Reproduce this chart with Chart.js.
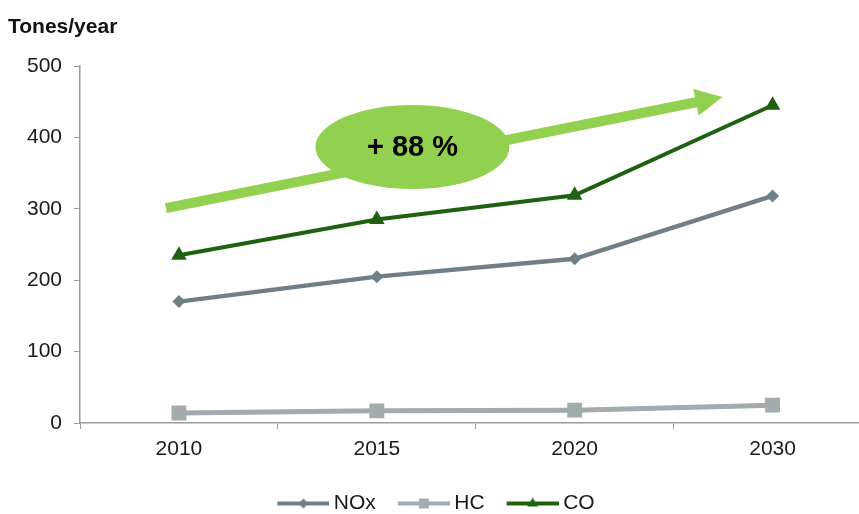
<!DOCTYPE html>
<html>
<head>
<meta charset="utf-8">
<script src="https://cdn.jsdelivr.net/npm/chart.js@4.4.1/dist/chart.umd.min.js"></script>
<style>
  html, body { margin: 0; padding: 0; width: 859px; height: 514px; overflow: hidden; background: #fff; }
  canvas { display: block; }
</style>
</head>
<body>
<canvas id="emissionsChart" width="882" height="524"></canvas>
<script>
// Emissions by year, tonnes per year
let years = ['2010', '2015', '2020', '2030'];
let noxValues = [170, 205, 230, 318];
let hcValues = [14, 17, 18, 25];
let coValues = [235, 285, 319, 445];
let yTicks = [0, 100, 200, 300, 400, 500];
let growthLabel = '+ 88 %';

const noxColor = '#6e7f88';
const hcColor = '#a2abaf';
const coColor = '#1f6111';
const arrowColor = '#92d050';
const textColor = '#1a1a1a';
const axisColor = '#9a9a9a';
const fontFamily = '"Liberation Sans", Arial, sans-serif';

// Trend arrow and bubble, placed in axis units (category index, tonnes)
const trendArrow = { from: [-0.066, 301], to: [2.747, 456.6], shaft: 10, headWidth: 27, headLength: 27 };
const bubble = { center: [1.18, 386.5], rx: 0.49, ry: 58.8 };

// Small line-with-marker image used as the legend symbol
function legendSwatch(color, style, radius, lineWidth) {
    const c = document.createElement('canvas');
    c.width = 64;
    c.height = 20;
    const g = c.getContext('2d');
    g.strokeStyle = color;
    g.fillStyle = color;
    g.lineWidth = lineWidth;
    g.beginPath();
    g.moveTo(12, 10);
    g.lineTo(64, 10);
    g.stroke();
    Chart.helpers.drawPoint(g, { pointStyle: style, radius: radius, borderWidth: 0 }, 38, 10);
    return c;
}

const swatches = [
    legendSwatch(noxColor, 'rectRot', 5, 4),
    legendSwatch(hcColor, 'rect', 7, 4),
    legendSwatch(coColor, 'triangle', 6, 4)
];

const titlePlugin = {
    id: 'unitTitle',
    afterLayout(chart) {
        // legend sits a little left of the canvas centre
        if (chart.legend) {
            chart.legend.left -= 8;
            chart.legend.right -= 8;
        }
    },
    afterDraw(chart) {
        const ctx = chart.ctx;
        ctx.save();
        ctx.font = 'bold 21px ' + fontFamily;
        ctx.fillStyle = '#111';
        ctx.textBaseline = 'alphabetic';
        ctx.fillText('Tones/year', 8, 33);
        ctx.restore();
    }
};

const trendPlugin = {
    id: 'trendArrow',
    afterDatasetsDraw(chart) {
        const x = chart.scales.x, y = chart.scales.y;
        const ctx = chart.ctx;
        const x0 = x.getPixelForValue(trendArrow.from[0]), y0 = y.getPixelForValue(trendArrow.from[1]);
        const x1 = x.getPixelForValue(trendArrow.to[0]), y1 = y.getPixelForValue(trendArrow.to[1]);
        const len = Math.hypot(x1 - x0, y1 - y0);
        const ux = (x1 - x0) / len, uy = (y1 - y0) / len;
        const nx = -uy, ny = ux;
        const bx = x1 - ux * trendArrow.headLength, by = y1 - uy * trendArrow.headLength;
        const s = trendArrow.shaft / 2, h = trendArrow.headWidth / 2;

        ctx.save();
        ctx.fillStyle = arrowColor;
        ctx.beginPath();
        ctx.moveTo(x0 + nx * s, y0 + ny * s);
        ctx.lineTo(bx + nx * s, by + ny * s);
        ctx.lineTo(bx + nx * h, by + ny * h);
        ctx.lineTo(x1, y1);
        ctx.lineTo(bx - nx * h, by - ny * h);
        ctx.lineTo(bx - nx * s, by - ny * s);
        ctx.lineTo(x0 - nx * s, y0 - ny * s);
        ctx.closePath();
        ctx.fill();

        const cx = x.getPixelForValue(bubble.center[0]), cy = y.getPixelForValue(bubble.center[1]);
        const rx = x.getPixelForValue(bubble.center[0] + bubble.rx) - cx;
        const ry = cy - y.getPixelForValue(bubble.center[1] + bubble.ry);
        ctx.beginPath();
        ctx.ellipse(cx, cy, rx, ry, 0, 0, Math.PI * 2);
        ctx.fill();

        ctx.fillStyle = '#000';
        ctx.font = 'bold 29px ' + fontFamily;
        ctx.textAlign = 'center';
        ctx.textBaseline = 'middle';
        ctx.fillText(growthLabel, cx, cy + 1);
        ctx.restore();
    }
};

function series(label, data, color, style, radius, width) {
    return {
        label: label,
        data: data,
        borderColor: color,
        backgroundColor: color,
        borderWidth: width,
        pointStyle: style,
        pointRadius: radius,
        pointHoverRadius: radius,
        pointBackgroundColor: color,
        pointBorderWidth: 0,
        tension: 0
    };
}

const ctx = document.getElementById('emissionsChart').getContext('2d');
const emissionsChart = new Chart(ctx, {
    type: 'line',
    data: {
        labels: years,
        datasets: [
            series('NOx', noxValues, noxColor, 'rectRot', 6.5, 4.5),
            series('HC', hcValues, hcColor, 'rect', 10.5, 5),
            series('CO', coValues, coColor, 'triangle', 9, 4)
        ]
    },
    options: {
        responsive: false,
        animation: false,
        layout: { padding: { top: 66, left: 0, right: 0, bottom: 0 } },
        plugins: {
            tooltip: { enabled: false },
            legend: {
                position: 'bottom',
                labels: {
                    usePointStyle: true,
                    pointStyleWidth: 52,
                    padding: 16,
                    color: textColor,
                    font: { family: fontFamily, size: 21 },
                    generateLabels(chart) {
                        const items = Chart.defaults.plugins.legend.labels.generateLabels(chart);
                        items.forEach((item, i) => { item.pointStyle = swatches[i]; });
                        return items;
                    }
                }
            }
        },
        scales: {
            x: {
                type: 'category',
                offset: true,
                grid: { offset: true, drawOnChartArea: false, tickLength: 6, color: axisColor },
                border: { color: axisColor, width: 1.5 },
                ticks: { color: textColor, padding: 8, font: { family: fontFamily, size: 21 } },
                afterFit(scale) { scale.height = 54; }
            },
            y: {
                min: 0,
                max: 500,
                afterBuildTicks(scale) { scale.ticks = yTicks.map(v => ({ value: v })); },
                grid: { drawOnChartArea: false, tickLength: 6, color: axisColor },
                border: { color: axisColor, width: 1.5 },
                ticks: { color: textColor, padding: 12, font: { family: fontFamily, size: 21 } },
                afterFit(scale) { scale.width = 80; }
            }
        }
    },
    plugins: [titlePlugin, trendPlugin]
});
</script>
</body>
</html>
